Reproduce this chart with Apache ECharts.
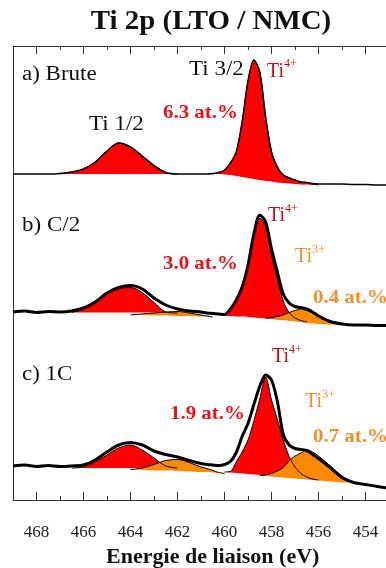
<!DOCTYPE html>
<html>
<head>
<meta charset="utf-8">
<script src="https://cdn.jsdelivr.net/npm/echarts/dist/echarts.min.js"></script>
<style>
html,body{margin:0;padding:0;background:#fff;}
#chart{width:386px;height:568px;}
</style>
</head>
<body>
<div id="chart"></div>
<script>
// ---- DATA (binding energy in eV, intensity in chart units, spectra stacked) ----
const energy = [469,468.5,468,467.5,467,466.5,466,465.5,465,464.5,464,463.5,463,462.5,462,461.5,461,
  460.75,460.5,460.25,460,459.75,459.5,459.25,459,458.75,458.5,458.25,458,457.75,457.5,457.25,457,456.75,456.5,456.25,
  456,455.5,455,454.5,454,453.5,453,452.5,452];

// a) Brute
const dataA = [326,326,326,326,326.5,328,331,338,349,357,353,344,334.5,327.5,326,326,326,
  326,326.5,327.5,330,337,348,378,419,440,428,383,348,333,325,322,320,318,317.5,316.5,
  316,316,316,315.5,315.5,315,315,315,315];
const bgA = [326,326,326,326,326,326,326,326,326,326,326,326,326,326,326,326,326,
  326,326,326,325.5,325,324,323,322,321,320,319,318.5,317.5,317,316.5,316,315.5,315.5,315,
  315,315,315,315,315,315,315,315,315];
const ti4A_12 = [null,null,null,null,0,2,5,12,23,31,27,18,8.5,1.5,0,null,null,
  null,null,null,null,null,null,null,null,null,null,null,null,null,null,null,null,null,null,null,
  null,null,null,null,null,null,null,null,null];
const ti4A_32 = [null,null,null,null,null,null,null,null,null,null,null,null,null,null,null,null,null,
  null,0,1.5,4.5,12,24,55,97,119,108,64,30,15.5,8,5.5,4,2.5,2,1,
  0,null,null,null,null,null,null,null,null];

// b) C/2
const dataB = [188,189,187.5,188.5,188,189,192,198,207,212.5,214.5,211,202,195,191,189,188,
  187,186.5,186,185.5,191,200,213,235,266,285,278,251,228,206,197,193.5,192.5,191,188,
  184,178.5,176,175,175,174.5,174.5,174.5,174.5];
const bgB = [187.5,187.5,187.5,187.5,187.5,187.5,187.5,187.5,187.5,187.5,187.5,187.5,187.5,187,187,186.5,186,
  185.5,185,184.5,184,184,183.5,183.5,183,182.5,182,181.5,181,180.5,180,179.5,179,178.5,178,177.5,
  177,176,175.5,175,175,175,175,175,175];
const bgB3 = [185.5,185.5,185.5,185.5,185.5,185.5,185.5,185.5,185.5,185.5,185,185,184.5,184.5,184,184,183.5,
  183.5,183,183,182.5,182.5,182.5,182,182,182,182,182,181.5,181,180,179.5,178.5,178,177,176.5,
  176,175.5,175,175,175,175,175,175,175];
const ti4B_12 = [null,null,null,null,null,0,4,10,20,24,25,20,10,1,0,null,null,
  null,null,null,null,null,null,null,null,null,null,null,null,null,null,null,null,null,null,null,
  null,null,null,null,null,null,null,null,null];
const ti4B_32 = [null,null,null,null,null,null,null,null,null,null,null,null,null,null,null,null,null,
  null,null,null,0,6.5,15.5,28,50,81,100,92.5,64,41.5,19,8,3,1,0,null,
  null,null,null,null,null,null,null,null,null];
const ti3B_12 = [null,null,null,null,null,null,null,null,null,null,0,1,2.5,3.5,4.5,3,1.5,
  0.5,0,null,null,null,null,null,null,null,null,null,null,null,null,null,null,null,null,null,
  null,null,null,null,null,null,null,null,null];
const ti3B_32 = [null,null,null,null,null,null,null,null,null,null,null,null,null,null,null,null,null,
  null,null,null,null,null,null,null,null,null,null,0,1,2.5,5,8,11,13,12.5,10.5,
  8,3.5,1,0,null,null,null,null,null];

// c) 1C
const dataC = [34,35,33.5,34.5,33.5,34,35,40,48,55,57.5,55,49,45.5,43,39.5,36.5,
  35.5,35,34.5,35.5,38.5,47.5,63.5,76.5,95.5,113.5,125,120,98.5,65.5,55,51.5,50.5,49.5,45.5,
  41.5,32.5,22.5,17.5,15.5,13.5,12,11.5,11];
const bgC = [32,32,32,32,32,32,32,32,32,32,32,32,32,32,32,31.5,31,
  30.5,29.5,29,28,27.5,27,26.5,26,25.5,25,24.5,24,23.5,23,22.5,22,21.5,21,20.5,
  20,19,18,17,16,14.5,13,12,11];
const bgC3 = [30.5,30.5,30.5,30.5,30.5,30.5,30.5,30.5,30.5,30.5,30.5,30,29.5,29.5,29,28.5,28,
  28,27.5,27,26.5,26,26,25.5,25.5,25,24.5,24,23.5,23,22.5,22,21.5,21,20.5,20,
  19.5,18.5,17.5,17,16,14.5,13,12,11];
const ti4C_12 = [null,null,null,null,null,0,1,6,13,20,23,18,10,2,0,null,null,
  null,null,null,null,null,null,null,null,null,null,null,null,null,null,null,null,null,null,null,
  null,null,null,null,null,null,null,null,null];
const ti4C_32 = [null,null,null,null,null,null,null,null,null,null,null,null,null,null,null,null,null,
  null,null,null,0,1,11,21.5,34,53.5,76,98.5,76,57,37,21,11,5,2,0.5,
  0,null,null,null,null,null,null,null,null];
const ti3C_12 = [null,null,null,null,null,null,null,null,null,null,0,2,6,10,11.5,9,5,
  3.5,2,0.5,0,null,null,null,null,null,null,null,null,null,null,null,null,null,null,null,
  null,null,null,null,null,null,null,null,null];
const ti3C_32 = [null,null,null,null,null,null,null,null,null,null,null,null,null,null,null,null,null,
  null,null,null,null,null,null,null,null,null,0,1,3,6,10,17,22.5,26,29.5,28,
  24.5,15.5,6.5,0.5,0,null,null,null,null];

const xRange = [452, 469];
const yRange = [0, 454];
const titleText = 'Ti 2p (LTO / NMC)';
const xName = 'Energie de liaison (eV)';

// ---- STYLE ----
const RED = '#ff0000', ORANGE = '#ff8a00';
const SERIF = '"Liberation Serif", "DejaVu Serif", serif';
const AX = '#333';

// rows are [intensity, energy]; encode maps dim 1 -> x, dim 0 -> y (so stacking is on intensity)
function pts(arr){ return energy.map((e,i)=>[arr[i], e]); }
const ENC = {x:1, y:0};

function component(key, bg, h, color){
  return [
    {type:'line', stack:key, data:pts(bg), encode:ENC, symbol:'none', smooth:0.3, silent:true,
     lineStyle:{opacity:0, width:0}},
    {type:'line', stack:key, data:pts(h), encode:ENC, symbol:'none', smooth:0.3, silent:true,
     lineStyle:{color:'#000', width:1}, areaStyle:{color:color, opacity:1}}
  ];
}
function spectrum(arr, w){
  return {type:'line', data:pts(arr), encode:ENC, symbol:'none', smooth:0.3, silent:true,
    lineStyle:{color:'#000', width:w}};
}

const series = [].concat(
  component('a1', bgA, ti4A_12, RED),
  component('a2', bgA, ti4A_32, RED),
  [spectrum(dataA, 1.5)],
  component('b1', bgB, ti4B_12, RED),
  component('b2', bgB, ti4B_32, RED),
  component('b3', bgB3, ti3B_12, ORANGE),
  component('b4', bgB3, ti3B_32, ORANGE),
  [spectrum(dataB, 3)],
  component('c1', bgC, ti4C_12, RED),
  component('c2', bgC, ti4C_32, RED),
  component('c3', bgC3, ti3C_12, ORANGE),
  component('c4', bgC3, ti3C_32, ORANGE),
  [spectrum(dataC, 3)]
);

const SX = 1.15;
function txt(x, y, text, font, color, sx){
  return {type:'text', x:x, y:y, z:100, scaleX:(sx||SX), silent:true,
    style:{text:text, font:font, fill:color, align:'left', verticalAlign:'middle'}};
}
const F = '20px ' + SERIF, FS = '12px ' + SERIF, FB = 'bold 19px ' + SERIF;
const DR = '#c8101c', BR = '#e8141c', OR = '#f0902a';

const graphics = [
  {type:'text', x:211, y:22, z:100, scaleX:1.07, silent:true,
   style:{text:titleText, font:'bold 27px ' + SERIF, fill:'#111', align:'center', verticalAlign:'middle'}},
  txt(22, 75, 'a) Brute', F, '#111'),
  txt(189, 70, 'Ti 3/2', F, '#111'),
  txt(267, 72, 'Ti', F, DR, 1), txt(284, 64, '4+', FS, DR, 1),
  txt(89, 125, 'Ti 1/2', F, '#111'),
  txt(163, 113, '6.3 at.%', FB, BR, 1.1),
  txt(22, 226, 'b) C/2', F, '#111'),
  txt(268, 216, 'Ti', F, DR, 1), txt(285, 209, '4+', FS, DR, 1),
  txt(295, 257, 'Ti', F, OR, 1), txt(312, 250, '3+', FS, OR, 1),
  txt(163, 264, '3.0 at.%', FB, BR, 1.1),
  txt(313, 298, '0.4 at.%', FB, OR, 1.1),
  txt(22, 375, 'c) 1C', F, '#111'),
  txt(272, 357, 'Ti', F, DR, 1), txt(289, 350, '4+', FS, DR, 1),
  txt(305, 402, 'Ti', F, OR, 1), txt(322, 395, '3+', FS, OR, 1),
  txt(170, 414, '1.9 at.%', FB, BR, 1.1),
  txt(313, 437, '0.7 at.%', FB, OR, 1.1)
];

const gridBox = {left:13, top:46, height:454, width:399.5, containLabel:false, outerBoundsMode:'none'};

const chart = echarts.init(document.getElementById('chart'), null, {renderer:'canvas'});
chart.setOption({
  animation:false,
  backgroundColor:'#fff',
  grid:[Object.assign({}, gridBox), Object.assign({}, gridBox)],
  xAxis:[
    {gridIndex:0, type:'value', position:'bottom', min:xRange[0], max:xRange[1], interval:2, inverse:true,
     axisLine:{show:true, lineStyle:{color:AX, width:1}},
     axisTick:{show:true, inside:true, length:8, lineStyle:{color:AX}},
     axisLabel:{show:true, showMaxLabel:false, showMinLabel:false, margin:24, fontFamily:SERIF, fontSize:17, color:'#222'},
     splitLine:{show:false},
     name:xName, nameLocation:'middle', nameGap:44,
     nameTextStyle:{fontFamily:SERIF, fontSize:22, fontWeight:'bold', color:'#111'}},
    {gridIndex:0, type:'value', position:'top', min:xRange[0], max:xRange[1], interval:2, inverse:true,
     axisLine:{show:true, lineStyle:{color:AX, width:1}},
     axisTick:{show:true, inside:true, length:8, lineStyle:{color:AX}},
     axisLabel:{show:false}, splitLine:{show:false}},
    {gridIndex:1, type:'value', position:'bottom', min:xRange[0], max:xRange[1], interval:1, inverse:true,
     axisLine:{show:false}, axisTick:{show:true, inside:true, length:4, lineStyle:{color:AX}},
     axisLabel:{show:false}, splitLine:{show:false}},
    {gridIndex:1, type:'value', position:'top', min:xRange[0], max:xRange[1], interval:1, inverse:true,
     axisLine:{show:false}, axisTick:{show:true, inside:true, length:4, lineStyle:{color:AX}},
     axisLabel:{show:false}, splitLine:{show:false}}
  ],
  yAxis:[
    {gridIndex:0, type:'value', min:yRange[0], max:yRange[1],
     axisLine:{show:true, lineStyle:{color:AX, width:1}}, axisTick:{show:false},
     axisLabel:{show:false}, splitLine:{show:false}},
    {gridIndex:1, type:'value', min:yRange[0], max:yRange[1], show:false}
  ],
  series: series,
  graphic: graphics
});
</script>
</body>
</html>
